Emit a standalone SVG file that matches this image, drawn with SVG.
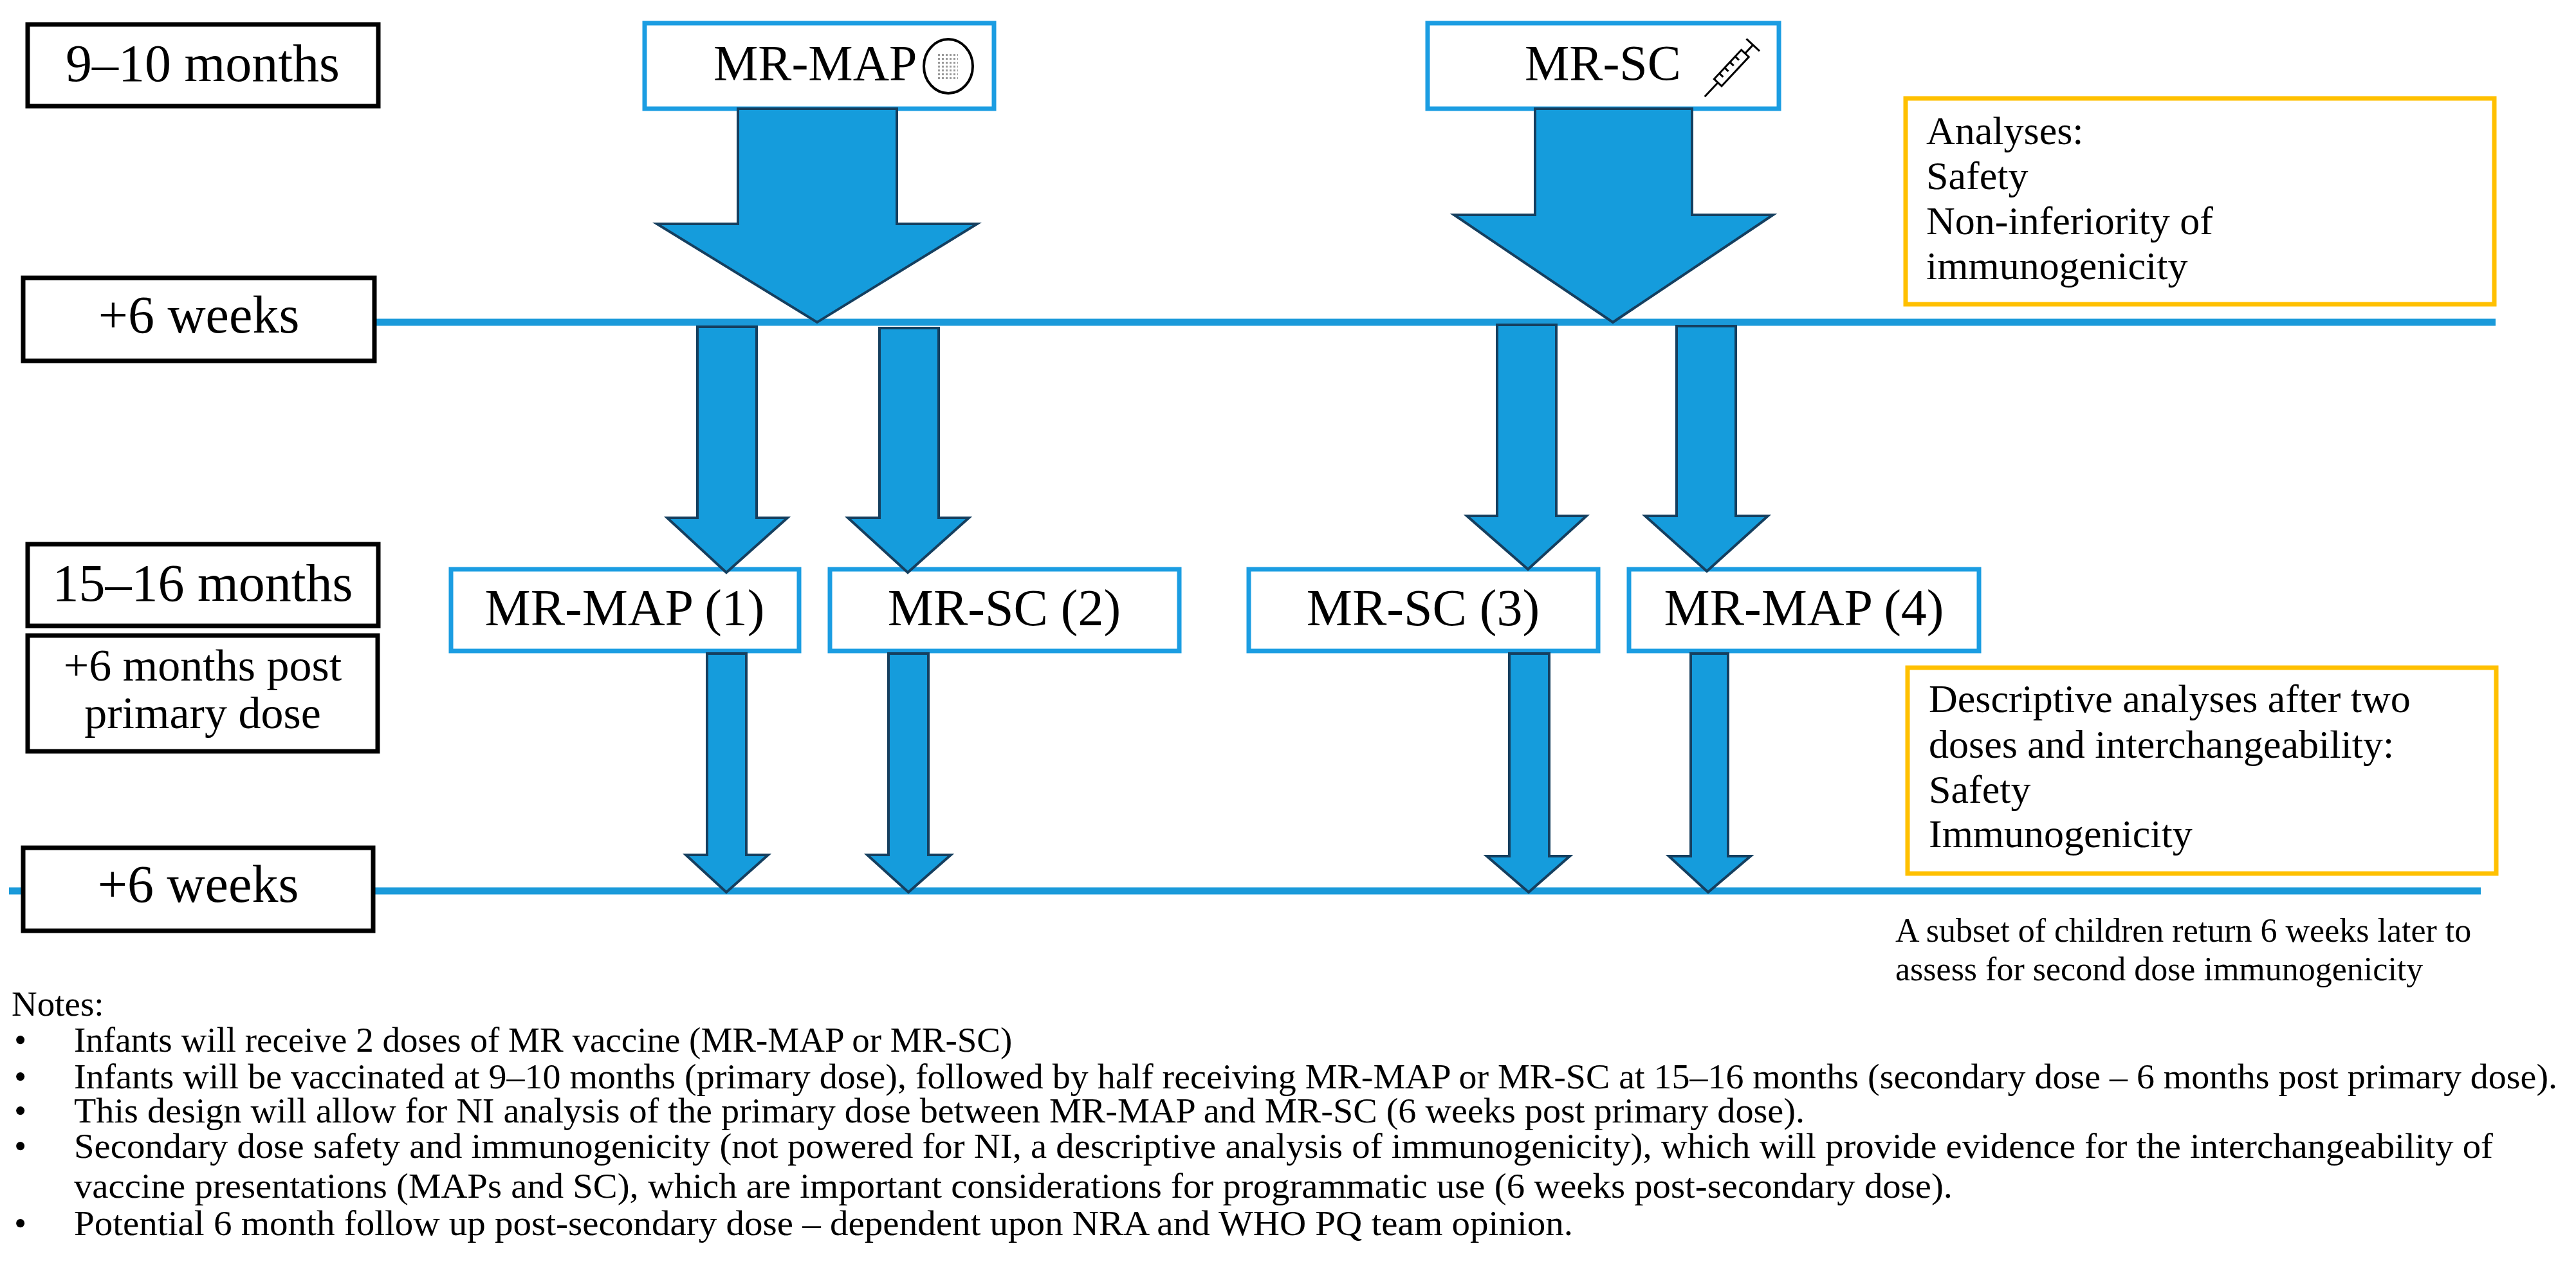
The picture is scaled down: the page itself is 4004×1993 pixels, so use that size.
<svg xmlns="http://www.w3.org/2000/svg" width="4004" height="1993" viewBox="0 0 4004 1993">
<style>
.lbl{fill:#fff;stroke:#000;stroke-width:7}
.vb{fill:#fff;stroke:#1B9DE2;stroke-width:7}
.ob{fill:#fff;stroke:#FFC000;stroke-width:7}
.t{font-family:"Liberation Serif","Times New Roman",serif;fill:#000}
.arr{fill:#159CDC;stroke:#153F5F;stroke-width:4;stroke-linejoin:miter}
.ln{stroke:#1A9ADA;stroke-width:11}
</style>
<defs>
<pattern id="dots" width="6" height="6" patternUnits="userSpaceOnUse"><rect width="3" height="3" fill="#999"/></pattern>
</defs>
<g id="lines">
<line class="ln" x1="582" y1="501" x2="3879" y2="501"/>
<line class="ln" x1="14" y1="1385" x2="3856" y2="1385"/>
</g>
<g id="label-9-10"><rect class="lbl" x="43" y="38" width="545" height="127"/><text class="t" x="315" y="126" font-size="82" text-anchor="middle">9–10 months</text></g>
<g id="label-6w1"><rect class="lbl" x="36" y="432" width="546" height="129"/><text class="t" x="309" y="517" font-size="82" text-anchor="middle">+6 weeks</text></g>
<g id="label-15-16"><rect class="lbl" x="43" y="846" width="545" height="127"/><text class="t" x="315" y="934" font-size="82" text-anchor="middle">15–16 months</text></g>
<g id="label-6m"><rect class="lbl" x="43" y="988" width="544" height="180"/><text class="t" x="315" y="1058" font-size="70" text-anchor="middle">+6 months post</text><text class="t" x="315" y="1132" font-size="70" text-anchor="middle">primary dose</text></g>
<g id="label-6w2"><rect class="lbl" x="36" y="1318" width="544" height="129"/><text class="t" x="308" y="1402" font-size="82" text-anchor="middle">+6 weeks</text></g>
<g id="mr-map-top"><rect class="vb" x="1002" y="36" width="543" height="133"/><text class="t" x="1109" y="124" font-size="78">MR-MAP</text>
<ellipse cx="1474" cy="103" rx="38" ry="42" fill="#fff" stroke="#000" stroke-width="4"/><rect x="1457" y="82" width="32" height="42" fill="url(#dots)"/></g>
<g id="mr-sc-top"><rect class="vb" x="2219" y="36" width="546" height="133"/><text class="t" x="2370" y="124" font-size="78">MR-SC</text>
<g transform="translate(2692,105) rotate(-47)" fill="none" stroke="#000" stroke-width="3">
<line x1="-62" y1="0" x2="-32" y2="0"/><rect x="-32" y="-8" width="62" height="16"/><line x1="30" y1="0" x2="48" y2="0"/><line x1="48" y1="-14" x2="48" y2="14"/>
<line x1="-20" y1="-8" x2="-20" y2="0"/><line x1="-8" y1="-8" x2="-8" y2="0"/><line x1="4" y1="-8" x2="4" y2="0"/><line x1="16" y1="-8" x2="16" y2="0"/></g></g>
<g id="mr-map-1"><rect class="vb" x="701" y="885" width="541" height="127"/><text class="t" x="971" y="972" font-size="80" text-anchor="middle">MR-MAP (1)</text></g>
<g id="mr-sc-2"><rect class="vb" x="1290" y="885" width="543" height="127"/><text class="t" x="1561" y="972" font-size="80" text-anchor="middle">MR-SC (2)</text></g>
<g id="mr-sc-3"><rect class="vb" x="1941" y="885" width="543" height="127"/><text class="t" x="2212" y="972" font-size="80" text-anchor="middle">MR-SC (3)</text></g>
<g id="mr-map-4"><rect class="vb" x="2532" y="885" width="544" height="127"/><text class="t" x="2804" y="972" font-size="80" text-anchor="middle">MR-MAP (4)</text></g>
<g id="analyses"><rect class="ob" x="2962" y="153" width="915" height="320"/>
<text class="t" font-size="62"><tspan x="2994" y="224">Analyses:</tspan><tspan x="2994" y="294">Safety</tspan><tspan x="2994" y="364">Non-inferiority of</tspan><tspan x="2994" y="434">immunogenicity</tspan></text></g>
<g id="descriptive"><rect class="ob" x="2965" y="1038" width="915" height="320"/>
<text class="t" font-size="62"><tspan x="2998" y="1107">Descriptive analyses after two</tspan><tspan x="2998" y="1178">doses and interchangeability:</tspan><tspan x="2998" y="1248">Safety</tspan><tspan x="2998" y="1317">Immunogenicity</tspan></text></g>
<text class="t" font-size="52"><tspan x="2946" y="1464">A subset of children return 6 weeks later to</tspan><tspan x="2946" y="1524">assess for second dose immunogenicity</tspan></text>
<g id="connectors">
<polygon class="arr" points="1147,169 1394,169 1394,348 1519,348 1270,501 1021,348 1147,348"/>
<polygon class="arr" points="2386,169 2630,169 2630,334 2756,334 2507,501 2260,334 2386,334"/>
<polygon class="arr" points="1084,508 1176,508 1176,805 1224,805 1129,890 1037,805 1084,805"/>
<polygon class="arr" points="1367,510 1459,510 1459,805 1506,805 1411,890 1318,805 1367,805"/>
<polygon class="arr" points="2327,505 2419,505 2419,802 2466,802 2375,885 2280,802 2327,802"/>
<polygon class="arr" points="2606,507 2698,507 2698,802 2748,802 2653,888 2557,802 2606,802"/>
<polygon class="arr" points="1099,1016 1160,1016 1160,1329 1194,1329 1129,1387 1066,1329 1099,1329"/>
<polygon class="arr" points="1381,1016 1443,1016 1443,1329 1478,1329 1412,1387 1348,1329 1381,1329"/>
<polygon class="arr" points="2346,1016 2408,1016 2408,1331 2440,1331 2376,1387 2311,1331 2346,1331"/>
<polygon class="arr" points="2628,1016 2686,1016 2686,1331 2721,1331 2655,1387 2594,1331 2628,1331"/>
</g>
<g id="notes" class="t" font-size="55">
<text x="18" y="1579">Notes:</text>
<text x="22" y="1635">•</text><text x="115" y="1635">Infants will receive 2 doses of MR vaccine (MR-MAP or MR-SC)</text>
<text x="22" y="1692">•</text><text x="115" y="1692" textLength="3860" lengthAdjust="spacingAndGlyphs">Infants will be vaccinated at 9–10 months (primary dose), followed by half receiving MR-MAP or MR-SC at 15–16 months (secondary dose – 6 months post primary dose).</text>
<text x="22" y="1745">•</text><text x="115" y="1745" textLength="2690" lengthAdjust="spacingAndGlyphs">This design will allow for NI analysis of the primary dose between MR-MAP and MR-SC (6 weeks post primary dose).</text>
<text x="22" y="1800">•</text><text x="115" y="1800" textLength="3760" lengthAdjust="spacingAndGlyphs">Secondary dose safety and immunogenicity (not powered for NI, a descriptive analysis of immunogenicity), which will provide evidence for the interchangeability of</text>
<text x="115" y="1862" textLength="2920" lengthAdjust="spacingAndGlyphs">vaccine presentations (MAPs and SC), which are important considerations for programmatic use (6 weeks post-secondary dose).</text>
<text x="22" y="1920">•</text><text x="115" y="1920" textLength="2330" lengthAdjust="spacingAndGlyphs">Potential 6 month follow up post-secondary dose – dependent upon NRA and WHO PQ team opinion.</text>
</g>
</svg>
